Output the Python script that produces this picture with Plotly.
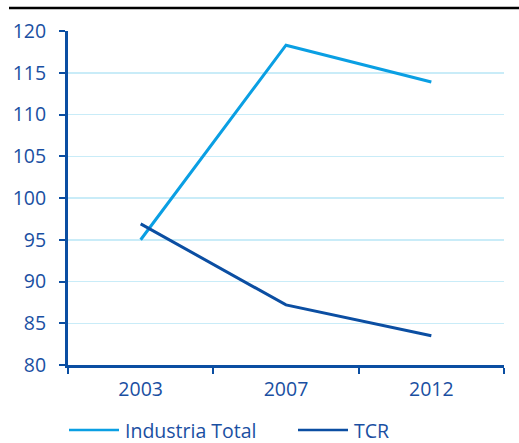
import plotly.graph_objects as go

years = ["2003", "2007", "2012"]
industria_total = [95.0, 118.3, 113.9]
tcr = [96.9, 87.2, 83.5]
y_ticks = [80, 85, 90, 95, 100, 105, 110, 115, 120]
series_names = ["Industria Total", "TCR"]

LIGHT = "#0a9fe3"
DARK = "#0b4ea2"
TEXT = "#1a4fa2"
GRID = "#c9ecf8"
FONT = "Open Sans, Noto Sans, sans-serif"
FS = 19.5

L, R, T, B, W, H = 68, 15, 31, 78, 519, 443
PW, PH = W - L - R, H - T - B


def px(x):
    return (x - L) / PW


def py(y):
    return (H - B - y) / PH


fig = go.Figure()
colors = [LIGHT, DARK]
for name, vals, col in zip(series_names, [industria_total, tcr], colors):
    fig.add_trace(go.Scatter(x=years, y=vals, mode="lines", name=name,
                             line=dict(color=col, width=3), showlegend=False,
                             hoverinfo="skip"))

shapes = [dict(type="line", xref="paper", yref="paper",
               x0=px(9), x1=px(519), y0=py(8), y1=py(8),
               line=dict(color="black", width=2.5))]
annotations = []
legend_x = [69, 298]
for name, col, lx in zip(series_names, colors, legend_x):
    shapes.append(dict(type="line", xref="paper", yref="paper",
                       x0=px(lx), x1=px(lx + 50), y0=py(430), y1=py(430),
                       line=dict(color=col, width=2.5)))
    annotations.append(dict(xref="paper", yref="paper", x=px(lx + 54), y=py(430),
                            xanchor="left", yanchor="middle", text=name, showarrow=False,
                            font=dict(family=FONT, size=FS, color=TEXT)))

fig.update_layout(
    width=W, height=H,
    margin=dict(l=L, r=R, t=T, b=B, autoexpand=False),
    paper_bgcolor="white", plot_bgcolor="white",
    font=dict(family=FONT, size=FS, color=TEXT),
    showlegend=False,
    xaxis=dict(type="category", range=[-0.5, 2.5], tickson="boundaries",
               showline=True, linecolor=DARK, linewidth=3,
               ticks="outside", ticklen=6, tickwidth=2, tickcolor=DARK,
               showgrid=False, zeroline=False, automargin=False,
               ticklabelstandoff=5,
               tickfont=dict(family=FONT, size=FS, color=TEXT)),
    yaxis=dict(range=[80, 120], tickvals=y_ticks,
               showline=True, linecolor=DARK, linewidth=3,
               ticks="outside", ticklen=6, tickwidth=2, tickcolor=DARK,
               showgrid=True, gridcolor=GRID, gridwidth=1.5, zeroline=False,
               automargin=False, ticklabelstandoff=9,
               tickfont=dict(family=FONT, size=FS, color=TEXT)),
    shapes=shapes,
    annotations=annotations,
)

fig.write_html("out.html", config={"displayModeBar": False, "staticPlot": True},
               post_script="document.body.style.margin='0';document.body.style.overflow='hidden';")
